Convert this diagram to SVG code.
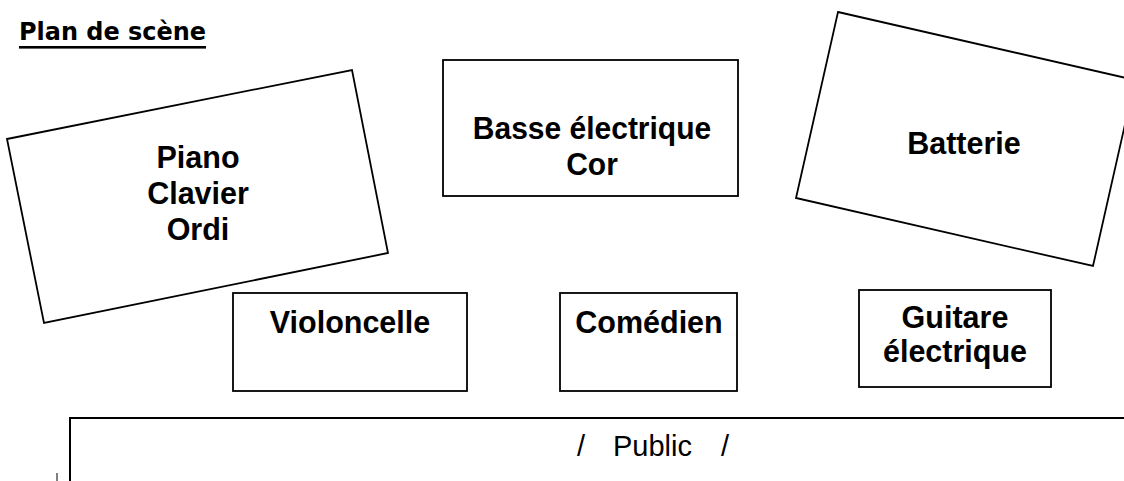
<svg xmlns="http://www.w3.org/2000/svg" width="1124" height="481" viewBox="0 0 1124 481">
<style>
.box{fill:#fff;stroke:#000;stroke-width:1.8}
.lbl{font-family:"Liberation Sans",Arial,sans-serif;font-weight:bold;font-size:30.5px;fill:#000;text-anchor:middle}
.pub{font-family:"Liberation Sans",Arial,sans-serif;font-size:29px;fill:#000}
.title{font-family:"DejaVu Sans",Verdana,sans-serif;font-weight:bold;font-size:24px;fill:#000}
</style>
<rect width="1124" height="481" fill="#fff"/>
<g id="title">
<text class="title" x="19" y="39.5" textLength="187" lengthAdjust="spacingAndGlyphs">Plan de scène</text>
<rect x="19" y="46" width="187" height="2.6" fill="#000"/>
</g>
<g id="piano">
<polygon class="box" points="7,139 352,70 388,253 44,323"/>
<text class="lbl" transform="translate(198,168) scale(1,1.05)"><tspan x="0" y="0">Piano</tspan><tspan x="0" y="34.3">Clavier</tspan><tspan x="0" y="68.6">Ordi</tspan></text>
</g>
<g id="basse">
<rect class="box" x="443" y="60" width="295" height="136"/>
<text class="lbl" style="font-size:30px" transform="translate(592,138.5) scale(1,1.05)">Basse électrique</text>
<text class="lbl" style="font-size:30px" transform="translate(592,174.5) scale(1,1.05)">Cor</text>
</g>
<g id="batterie">
<polygon class="box" points="838,12 1135,80 1093,266 796,198"/>
<text class="lbl" transform="translate(964,154) scale(1,1.05)">Batterie</text>
</g>
<g id="violoncelle">
<rect class="box" x="233" y="293" width="234" height="98"/>
<text class="lbl" transform="translate(350,333) scale(1,1.05)">Violoncelle</text>
</g>
<g id="comedien">
<rect class="box" x="560" y="293" width="177" height="98"/>
<text class="lbl" transform="translate(649,333) scale(1,1.05)">Comédien</text>
</g>
<g id="guitare">
<rect class="box" x="859" y="290" width="192" height="97"/>
<text class="lbl" transform="translate(955,328) scale(1,1.05)"><tspan x="0" y="0">Guitare</tspan><tspan x="0" y="32.4">électrique</tspan></text>
</g>
<g id="public">
<polyline points="70,481 70,418 1130,418" fill="none" stroke="#000" stroke-width="2"/>
<text class="pub" y="456"><tspan x="577">/</tspan><tspan x="613">Public</tspan><tspan x="721">/</tspan></text>
</g>
<g id="connectors"></g>
<line x1="57" y1="473" x2="57" y2="481" stroke="#000" stroke-width="1"/>
</svg>
